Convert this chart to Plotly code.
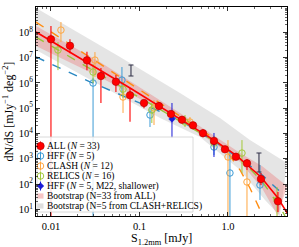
import plotly.graph_objects as go

# ---------------- data ----------------
# ALL (N=33)
all_s  = [0.0100, 0.0164, 0.0255, 0.0367, 0.0542, 0.0782, 0.1125, 0.166, 0.227, 0.302,
          0.403, 0.522, 0.695, 0.925, 1.23, 1.64, 2.36, 3.67]
all_n  = [5.3e7, 2.95e7, 7.8e6, 1.87e6, 1.11e6, 3.24e5, 1.61e5, 1.22e5, 5.9e4, 3.5e4,
          2.1e4, 1.03e4, 5.1e3, 2.37e3, 1.21e3, 664, 159, 20.9]
all_hi = [1.77e8, 5.3e7, 1.71e7, 3.9e6, 2.05e6, 6.3e5, 2.1e5, 1.76e5, 7.3e4, 4.6e4,
          2.8e4, 1.48e4, 6.6e3, 3.2e3, 1.69e3, 982, 275, 48.7]
all_lo = [1, 1.48e7, 3.2e6, 1.6e5, 4.4e5, 2.9e4, 1.0e5, 8.5e4, 4.4e4, 2.7e4,
          1.6e4, 7.1e3, 3.8e3, 1.77e3, 900, 361, 92, 7.9]

# HFF (N=5)
hff_s  = [0.0299, 0.0634, 0.1315, 0.695, 1.053, 2.30]
hff_n  = [9.9e5, 1.30e6, 5.4e4, 2.92e3, 275, 92]
hff_hi = [1.56e6, 4.25e6, 1.11e5, 5.5e3, 2.23e3, 569]
hff_lo = [1, 4.0e5, 1.81e4, 1.41e3, 1, 23.6]

# CLASH (N=12)
cla_s  = [0.01297, 0.0314, 0.0652, 0.146, 0.372, 1.0, 1.64]
cla_n  = [1.23e8, 8.0e6, 2.77e5, 1.02e5, 2.85e4, 1.18e3, 121]
cla_hi = [2.55e8, 1.66e7, 5.2e5, 2.1e5, 4.5e4, 5.5e3, 361]
cla_lo = [4.1e7, 1.71e6, 6.5e4, 2.17e4, 1.81e4, 1, 1]

# RELICS (N=16)
rel_s  = [0.0120, 0.0299, 0.0652, 0.138, 0.327, 0.695, 1.44, 3.58]
rel_n  = [2.0e7, 2.7e6, 5.7e5, 8.5e4, 2.85e4, 4.2e3, 1.69e3, 23.6]
rel_hi = [4.1e7, 5.6e6, 1.09e6, 1.61e5, 5.4e4, 7.96e3, 5.5e3, 76.8]
rel_lo = [3.2e6, 9.9e5, 2.53e5, 2.6e4, 1.81e4, 2.23e3, 275, 1]

# HFF (N=5, M22, shallower)
m22_s  = [0.233, 0.695]
m22_n  = [3.74e4, 4.6e3]
m22_hi = [1.61e5, 1.05e4]
m22_lo = [6.6e3, 1.18e3]

# dark error bars without markers
blk_s  = [0.0802, 2.24]
blk_hi = [5.1e6, 1.69e3]
blk_lo = [1.87e6, 301]

# fitted curves
fit_s = [0.00678, 0.0782, 0.695, 1.23, 2.36, 3.67, 4.89]
fit_n = [1.03e8, 6.3e5, 5.5e3, 1.41e3, 191, 28.3, 5.5]

cla_fit_s = [0.00678, 0.713, 1.0, 1.37, 1.77, 2.18, 2.48]
cla_fit_n = [2.55e8, 6.07e3, 1.69e3, 361, 70, 14.9, 5.5]

rel_fit_s = [0.00678, 0.695, 1.37, 2.42, 3.87, 4.41]
rel_fit_n = [6.5e7, 5.06e3, 982, 133, 12.4, 5.5]

hff_fit_s = [0.00678, 0.0276, 0.287, 0.813, 2.30, 4.64]
hff_fit_n = [1.06e7, 1.11e6, 3.42e4, 3.5e3, 275, 28.3]

# bootstrap bands
pink_up_s = [0.00678, 0.0358, 0.287, 0.695, 1.37, 2.42, 4.64]
pink_up_n = [1.77e8, 6.7e6, 6.5e4, 7.96e3, 1.69e3, 519, 84]
pink_lo_s = [0.00678, 0.0358, 0.287, 0.695, 1.37, 2.42, 3.67]
pink_lo_n = [2.87e7, 1.71e6, 3.1e4, 4.2e3, 748, 70, 5.5]

grey_up_s = [0.00678, 0.0603, 0.287, 0.813, 1.77, 4.64]
grey_up_n = [9.1e8, 1.06e7, 3.99e5, 4.1e4, 5.5e3, 682]
grey_lo_s = [0.00678, 0.0358, 0.171, 0.483, 1.37, 2.62, 3.87]
grey_lo_n = [2.0e7, 8.3e5, 4.1e4, 7.3e3, 361, 23.6, 5.5]

# tick labels
x_ticks = [0.01, 0.1, 1.0]
x_ticktext = ["0.01", "0.1", "1.0"]
y_exps = list(range(1, 10))

legend_labels = [
    "ALL (<i>N</i> = 33)",
    "HFF (<i>N</i> = 5)",
    "CLASH (<i>N</i> = 12)",
    "RELICS (<i>N</i> = 16)",
    "HFF (<i>N</i> = 5, M22, shallower)",
    "Bootstrap (N=33 from ALL)",
    "Bootstrap (N=5 from CLASH+RELICS)",
]

# ---------------- styles ----------------
RED = "#ff0000"
HFFC = "#3c9bd6"
HFFL = "#2a88c2"
ORC = "#ffa640"
ORL = "#ff8c10"
GRC = "#a3c93a"
GRL = "#97c43a"
M22C = "#1a1ad6"
FONT = "Liberation Serif"
RED_SIZE = 7.5
OPEN_SIZE = 6.5

fig = go.Figure()


def err(vals, hi, lo):
    return dict(type="data", symmetric=False,
                array=[h - v for v, h in zip(vals, hi)],
                arrayminus=[v - l for v, l in zip(vals, lo)])


def band(us, un, ls, ln, color):
    fig.add_trace(go.Scatter(x=us + ls[::-1], y=un + ln[::-1], fill="toself",
                             fillcolor=color, line=dict(width=0), mode="lines",
                             hoverinfo="skip", showlegend=False))


band(grey_up_s, grey_up_n, grey_lo_s, grey_lo_n, "rgba(175,175,175,0.33)")
band(pink_up_s, pink_up_n, pink_lo_s, pink_lo_n, "rgba(235,90,90,0.30)")

for xs, ys, c in [(hff_fit_s, hff_fit_n, HFFL), (rel_fit_s, rel_fit_n, GRL),
                  (cla_fit_s, cla_fit_n, ORL)]:
    fig.add_trace(go.Scatter(x=xs, y=ys, mode="lines",
                             line=dict(color=c, width=1.4, dash="dash"),
                             showlegend=False))


def pts(xs, ys, hi, lo, color, symbol, size, lw=1.0, fill=None):
    fig.add_trace(go.Scatter(
        x=xs, y=ys, mode="markers",
        marker=dict(symbol=symbol, size=size, color=fill if fill else color,
                    line=dict(color=color, width=lw)),
        error_y=dict(**err(ys, hi, lo), color=color, thickness=1.0, width=0),
        showlegend=False))


pts(hff_s, hff_n, hff_hi, hff_lo, HFFC, "circle-open", OPEN_SIZE)
pts(cla_s, cla_n, cla_hi, cla_lo, ORC, "circle-open", OPEN_SIZE)
pts(rel_s, rel_n, rel_hi, rel_lo, GRC, "circle-open", OPEN_SIZE)
pts(m22_s, m22_n, m22_hi, m22_lo, M22C, "diamond", 5, lw=0.5)

blk_mid = [(h * l) ** 0.5 for h, l in zip(blk_hi, blk_lo)]
fig.add_trace(go.Scatter(
    x=blk_s, y=blk_mid, mode="markers", marker=dict(size=1, color="rgba(0,0,0,0)"),
    error_y=dict(**err(blk_mid, blk_hi, blk_lo), color="#33334a", thickness=1.1, width=2.5),
    showlegend=False))

fig.add_trace(go.Scatter(x=fit_s, y=fit_n, mode="lines",
                         line=dict(color=RED, width=1.6), showlegend=False))

fig.add_trace(go.Scatter(
    x=all_s, y=all_n, mode="markers",
    marker=dict(symbol="circle", size=RED_SIZE, color=RED, line=dict(color="#b00000", width=0.6)),
    error_y=dict(**err(all_n, all_hi, all_lo), color=RED, thickness=1.1, width=0),
    showlegend=False))

# ---------------- manual legend (overlay axes in [0,1]) ----------------
W, H, L, B = 251.0, 209.0, 36.0, 216.0
px = lambda v: (v - L) / W
py = lambda v: (B - v) / H

bx0, bx1, by0, by1 = px(37), px(193), py(212), py(137)
fig.add_trace(go.Scatter(x=[bx0, bx1, bx1, bx0, bx0], y=[by0, by0, by1, by1, by0],
                         xaxis="x2", yaxis="y2", mode="lines", fill="toself",
                         fillcolor="rgba(255,255,255,0.85)",
                         line=dict(color="#d0d0d0", width=0.8), showlegend=False,
                         hoverinfo="skip"))

rows = [py(146 + 10 * i) for i in range(7)]
sx = px(40.5)
leg_syms = [(RED, "circle", RED_SIZE, RED), (HFFC, "circle-open", OPEN_SIZE, None),
            (ORC, "circle-open", OPEN_SIZE, None), (GRC, "circle-open", OPEN_SIZE, None),
            (M22C, "diamond", 5, M22C)]
for (c, sym, sz, fc), yy in zip(leg_syms, rows[:5]):
    fig.add_trace(go.Scatter(
        x=[sx], y=[yy], xaxis="x2", yaxis="y2", mode="markers",
        marker=dict(symbol=sym, size=sz, color=fc if fc else c,
                    line=dict(color="#b00000" if c == RED else c, width=0.6 if fc else 1)),
        error_y=dict(type="constant", value=4.5 / H, color=c, thickness=1.0, width=0),
        showlegend=False, hoverinfo="skip"))

for fc, yy in [("rgba(240,150,150,0.55)", rows[5]), ("rgba(200,200,200,0.6)", rows[6])]:
    fig.add_trace(go.Scatter(
        x=[px(37.5), px(43.5), px(43.5), px(37.5), px(37.5)],
        y=[yy - 2.6 / H, yy - 2.6 / H, yy + 2.6 / H, yy + 2.6 / H, yy - 2.6 / H],
        xaxis="x2", yaxis="y2", mode="lines", fill="toself", fillcolor=fc,
        line=dict(width=0), showlegend=False, hoverinfo="skip"))

annotations = []
for lab, yy in zip(legend_labels, rows):
    annotations.append(dict(x=px(45), y=yy, xref="paper", yref="paper", text=lab,
                            showarrow=False, xanchor="left", yanchor="middle",
                            font=dict(family=FONT, size=9.5, color="black")))

annotations.append(dict(x=px(8), y=0.5, xref="paper", yref="paper",
                        text="dN/dS [mJy<sup>\u22121</sup> deg<sup>\u22122</sup>]",
                        textangle=-90, showarrow=False, xanchor="center", yanchor="middle",
                        font=dict(family=FONT, size=12, color="black")))
annotations.append(dict(x=0.5, y=py(238.5), xref="paper", yref="paper",
                        text="S<sub>1.2mm</sub> [mJy]", showarrow=False,
                        xanchor="center", yanchor="middle",
                        font=dict(family=FONT, size=12, color="black")))

x_minor = [k * 10.0 ** n for n in range(-3, 1) for k in range(2, 10)]
y_minor = [k * 10.0 ** n for n in range(0, 9) for k in range(2, 10)]

axis_common = dict(showline=True, linecolor="black", linewidth=1, mirror="allticks",
                   ticks="inside", ticklen=4, tickwidth=0.8, tickcolor="black",
                   showgrid=False, zeroline=False, automargin=False,
                   tickfont=dict(family=FONT, size=10.5, color="black"))

fig.update_layout(
    width=299, height=247,
    margin=dict(l=36, r=12, t=7, b=31),
    paper_bgcolor="white", plot_bgcolor="white",
    showlegend=False,
    xaxis=dict(type="log", range=[-2.169, 0.667], tickvals=x_ticks, ticktext=x_ticktext,
               minor=dict(ticks="inside", ticklen=2, tickwidth=0.6, tickcolor="black",
                          tickvals=x_minor, showgrid=False),
               **axis_common),
    yaxis=dict(type="log", range=[0.739, 9.002], tickvals=[10.0 ** e for e in y_exps],
               ticktext=["10<sup>%d</sup>" % e for e in y_exps],
               minor=dict(ticks="inside", ticklen=2, tickwidth=0.6, tickcolor="black",
                          tickvals=y_minor, showgrid=False),
               **axis_common),
    xaxis2=dict(overlaying="x", range=[0, 1], visible=False, anchor="y2"),
    yaxis2=dict(overlaying="y", range=[0, 1], visible=False, anchor="x2"),
    annotations=annotations,
)

fig.write_html("out.html", config={"displayModeBar": False, "staticPlot": True},
               post_script="document.body.style.margin='0';document.body.style.padding='0';")
